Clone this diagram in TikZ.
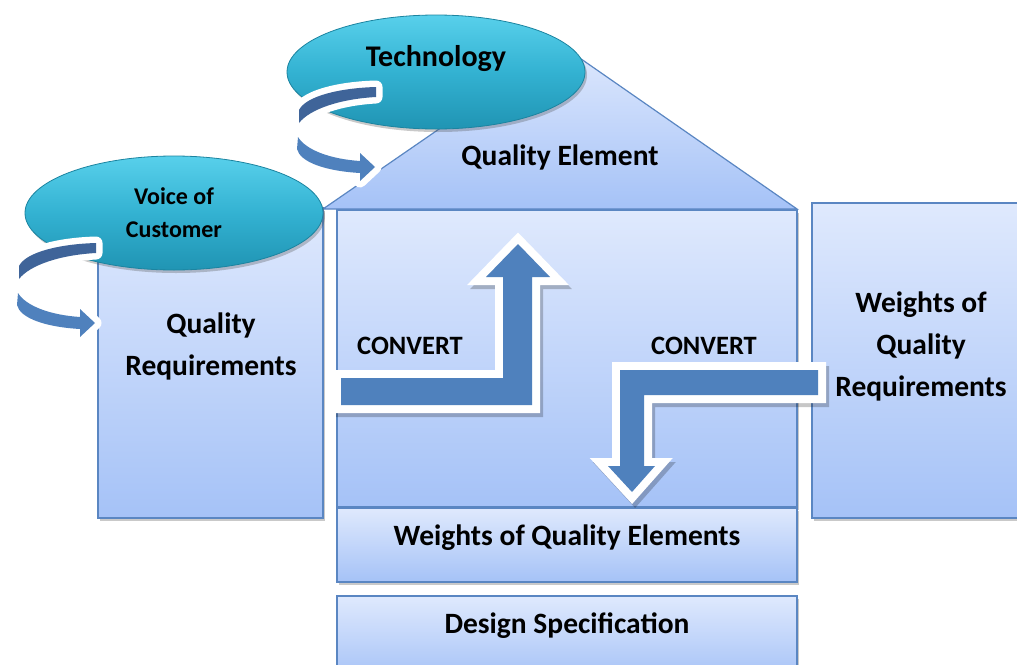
\documentclass[tikz,border=0pt]{standalone}
\usepackage{fontspec}
\setmainfont{Carlito}
\usetikzlibrary{shapes.geometric,shadows}

\definecolor{boxtop}{HTML}{DFE9FD}
\definecolor{boxbot}{HTML}{A5C2F7}
\definecolor{boxline}{HTML}{5A86C2}
\definecolor{arrowblue}{HTML}{4F81BD}
\definecolor{arrowdark}{HTML}{3F6499}
\definecolor{tealtop}{HTML}{58D0EB}
\definecolor{tealmid}{HTML}{33B2D2}
\definecolor{tealbot}{HTML}{2094B3}
\definecolor{tealline}{HTML}{1C84A0}

\begin{document}
\begin{tikzpicture}[x=1pt,y=-1pt,
  softshadow/.style={drop shadow={shadow xshift=2pt,shadow yshift=-3pt,opacity=0.3,fill=black!70}},
  panel/.style={rectangle,inner sep=0pt,draw=boxline,line width=1.4pt,
    top color=boxtop,bottom color=boxbot,softshadow},
  bubble/.style={ellipse,inner sep=0pt,minimum width=298pt,minimum height=114pt,
    draw=tealline,line width=0.8pt,top color=tealtop,bottom color=tealbot,
    middle color=tealmid,softshadow},
  big/.style={font=\bfseries\fontsize{29.5}{42}\selectfont,align=center,inner sep=0pt},
  mid/.style={font=\bfseries\fontsize{26.5}{33}\selectfont,align=center,inner sep=0pt},
  small/.style={font=\bfseries\fontsize{24}{33}\selectfont,align=center,inner sep=0pt},
  halo/.style={draw=white,line width=16pt,line join=miter,miter limit=4},
  haloshadow/.style={draw=black,opacity=0.22,line width=16pt,line join=miter,miter limit=4},
  curl/.pic={
    % white halo around the two bands of the curved arrow
    \path[draw=white,fill=white,line width=13pt,line join=round]
      (96,243) .. controls (60,244) and (26,252) .. (19,266) -- (19,279)
      .. controls (30,265) and (60,255) .. (96,253) -- cycle
      (18,293) .. controls (26,306) and (50,315) .. (80,317) -- (80,309)
      -- (95,323) -- (80,337) -- (80,329) .. controls (45,327) and (20,318) .. (17,305) -- cycle;
    % upper (back) band
    \fill[arrowdark] (96,243) .. controls (60,244) and (26,252) .. (19,266) -- (19,279)
      .. controls (30,265) and (60,255) .. (96,253) -- cycle;
    % lower (front) band with head
    \fill[arrowblue] (18,293) .. controls (26,306) and (50,315) .. (80,317) -- (80,309)
      -- (95,323) -- (80,337) -- (80,329) .. controls (45,327) and (20,318) .. (17,305) -- cycle;
  }]

\useasboundingbox (0,0) rectangle (1017,664);

% side columns and main body
\node[panel,minimum width=225pt,minimum height=310pt] (reqbox) at (210.5,363) {};
\node[panel,minimum width=460pt,minimum height=297pt] (corebox) at (567,358.5) {};
\node[panel,minimum width=218pt,minimum height=315pt] (wreqbox) at (921,360.5) {};

% roof
\path[draw=boxline,line width=1.2pt,top color=boxtop,bottom color=boxbot]
  (323,209) -- (561,45) -- (797,209) -- cycle;

% bottom rows
\node[panel,minimum width=460pt,minimum height=74pt] (welbox) at (567,545) {};
\node[panel,minimum width=460pt,minimum height=84pt] (specbox) at (567,638) {};

% labels
\node[big] (qel) at (560,157) {Quality Element};
\node[big] (qreq) at (211,346) {Quality\\Requirements};
\node[big] (wreq) at (921,346) {Weights of\\Quality\\Requirements};
\node[big] (wel) at (567,538) {Weights of Quality Elements};
\node[big] (spec) at (567,626) {Design Specification};
\node[mid] (conv1) at (410,346) {CONVERT};
\node[mid] (conv2) at (704,346) {CONVERT};

% input bubbles
\node[bubble] (voc) at (174,213) {};
\node[small] (voctext) at (174,212.5) {Voice of\\Customer};
\node[bubble] (tech) at (436,72) {};
\node[big,font=\bfseries\fontsize{30}{36}\selectfont] (techtext) at (436,59) {Technology};

% curved arrows from the bubbles
\pic at (0,0) {curl};
\pic at (280,-156) {curl};

% bent block arrows
\path[haloshadow,shift={(3,4)}]
  (341,378) -- (503,378) -- (503,277) -- (486,277) -- (518,244) -- (550,277)
  -- (532,277) -- (532,405) -- (341,405) -- cycle;
\path[halo,fill=arrowblue]
  (341,378) -- (503,378) -- (503,277) -- (486,277) -- (518,244) -- (550,277)
  -- (532,277) -- (532,405) -- (341,405) -- cycle;
\fill[arrowblue]
  (341,378) -- (503,378) -- (503,277) -- (486,277) -- (518,244) -- (550,277)
  -- (532,277) -- (532,405) -- (341,405) -- cycle;

\path[haloshadow,shift={(3,4)}]
  (818,370) -- (620,370) -- (620,466) -- (608,466) -- (632,492) -- (655,466)
  -- (644,466) -- (644,395) -- (818,395) -- cycle;
\path[halo,fill=arrowblue]
  (818,370) -- (620,370) -- (620,466) -- (608,466) -- (632,492) -- (655,466)
  -- (644,466) -- (644,395) -- (818,395) -- cycle;
\fill[arrowblue]
  (818,370) -- (620,370) -- (620,466) -- (608,466) -- (632,492) -- (655,466)
  -- (644,466) -- (644,395) -- (818,395) -- cycle;

\end{tikzpicture}
\end{document}
